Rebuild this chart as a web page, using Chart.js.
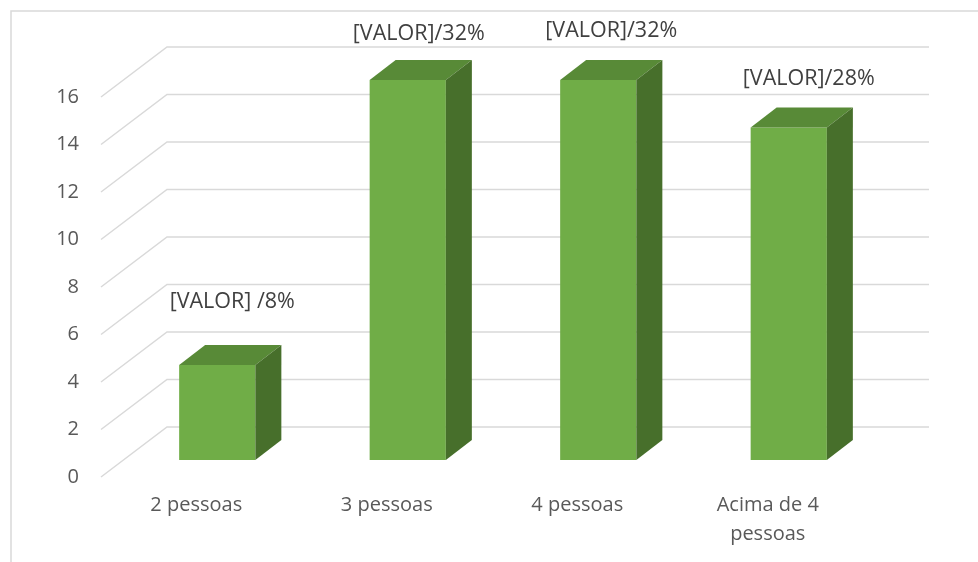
<!DOCTYPE html>
<html><head><meta charset="utf-8">
<script src="https://cdn.jsdelivr.net/npm/chart.js@4/dist/chart.umd.min.js"></script>
<style>html,body{margin:0;padding:0;background:#fff;overflow:hidden}#wrap{width:978px;height:562px;position:relative}</style>
</head><body><div id="wrap"><canvas id="c" width="978" height="562"></canvas></div>
<script>
const categories = ['2 pessoas', '3 pessoas', '4 pessoas', ['Acima de 4', 'pessoas']];
const values = [4, 16, 16, 14];
const valueLabels = ['[VALOR] /8%', '[VALOR]/32%', '[VALOR]/32%', '[VALOR]/28%'];
const yMin = 0, yMax = 16, yStep = 2;

const FONT = '"Open Sans", "Noto Sans", sans-serif';
const GRID = '#d9d9d9';
// perspective offsets relative to the bar-front plane
const FRONT = {dx: -21, dy: 17};
const BACK = {dx: 45, dy: -33};
const DEPTH = {dx: 26, dy: -20};

const frame3d = {
  id: 'frame3d',
  beforeDatasetsDraw(chart) {
    const {ctx, chartArea, scales} = chart;
    const y = scales.y;
    ctx.save();
    ctx.strokeStyle = GRID;
    ctx.lineWidth = 1.5;
    ctx.strokeRect(11, 11, 1200, 800);
    for (let v = yMin; v <= yMax; v += yStep) {
      const py = y.getPixelForValue(v);
      ctx.beginPath();
      ctx.moveTo(chartArea.left + FRONT.dx, py + FRONT.dy);
      ctx.lineTo(chartArea.left + BACK.dx, py + BACK.dy);
      ctx.lineTo(chartArea.right + BACK.dx, py + BACK.dy);
      ctx.stroke();
    }
    ctx.restore();
  },
  afterDatasetsDraw(chart, args, opts) {
    const {ctx} = chart;
    const meta = chart.getDatasetMeta(0);
    ctx.save();
    meta.data.forEach((bar, i) => {
      const p = bar.getProps(['x', 'y', 'base', 'width'], true);
      const l = p.x - p.width / 2, r = p.x + p.width / 2;
      ctx.fillStyle = '#588A37';
      ctx.beginPath();
      ctx.moveTo(l, p.y);
      ctx.lineTo(l + DEPTH.dx, p.y + DEPTH.dy);
      ctx.lineTo(r + DEPTH.dx, p.y + DEPTH.dy);
      ctx.lineTo(r, p.y);
      ctx.closePath();
      ctx.fill();
      ctx.fillStyle = '#476F2B';
      ctx.beginPath();
      ctx.moveTo(r, p.y);
      ctx.lineTo(r + DEPTH.dx, p.y + DEPTH.dy);
      ctx.lineTo(r + DEPTH.dx, p.base + DEPTH.dy);
      ctx.lineTo(r, p.base);
      ctx.closePath();
      ctx.fill();
      const s = opts.labelShift[i];
      ctx.fillStyle = '#404040';
      ctx.font = '21.5px ' + FONT;
      ctx.textAlign = 'center';
      ctx.textBaseline = 'middle';
      ctx.fillText(valueLabels[i], p.x + s[0], p.y + s[1]);
    });
    ctx.restore();
  }
};

new Chart(document.getElementById('c'), {
  type: 'bar',
  data: {
    labels: categories,
    datasets: [{
      data: values,
      backgroundColor: '#70AD47',
      borderWidth: 0,
      barPercentage: 0.4,
      categoryPercentage: 1.0
    }]
  },
  options: {
    responsive: false,
    animation: false,
    devicePixelRatio: 1,
    layout: {padding: {left: 0, right: 94, top: 80, bottom: 0}},
    plugins: {
      legend: {display: false},
      tooltip: {enabled: false},
      frame3d: {labelShift: [[15, -63], [11, -46], [13, -49], [20, -49]]}
    },
    scales: {
      x: {
        grid: {display: false, drawTicks: false},
        border: {display: false},
        ticks: {
          color: '#595959',
          font: {family: FONT, size: 20, lineHeight: 1.45},
          padding: 31,
          labelOffset: -21,
          maxRotation: 0,
          autoSkip: false
        },
        afterFit(s) { s.height = 102; }
      },
      y: {
        min: yMin, max: yMax,
        grid: {display: false, drawTicks: false},
        border: {display: false},
        ticks: {
          stepSize: yStep,
          color: '#595959',
          font: {family: FONT, size: 20},
          padding: 43,
          labelOffset: 17
        },
        afterFit(s) { s.width = 122; }
      }
    }
  },
  plugins: [frame3d]
});
</script>
</body></html>
